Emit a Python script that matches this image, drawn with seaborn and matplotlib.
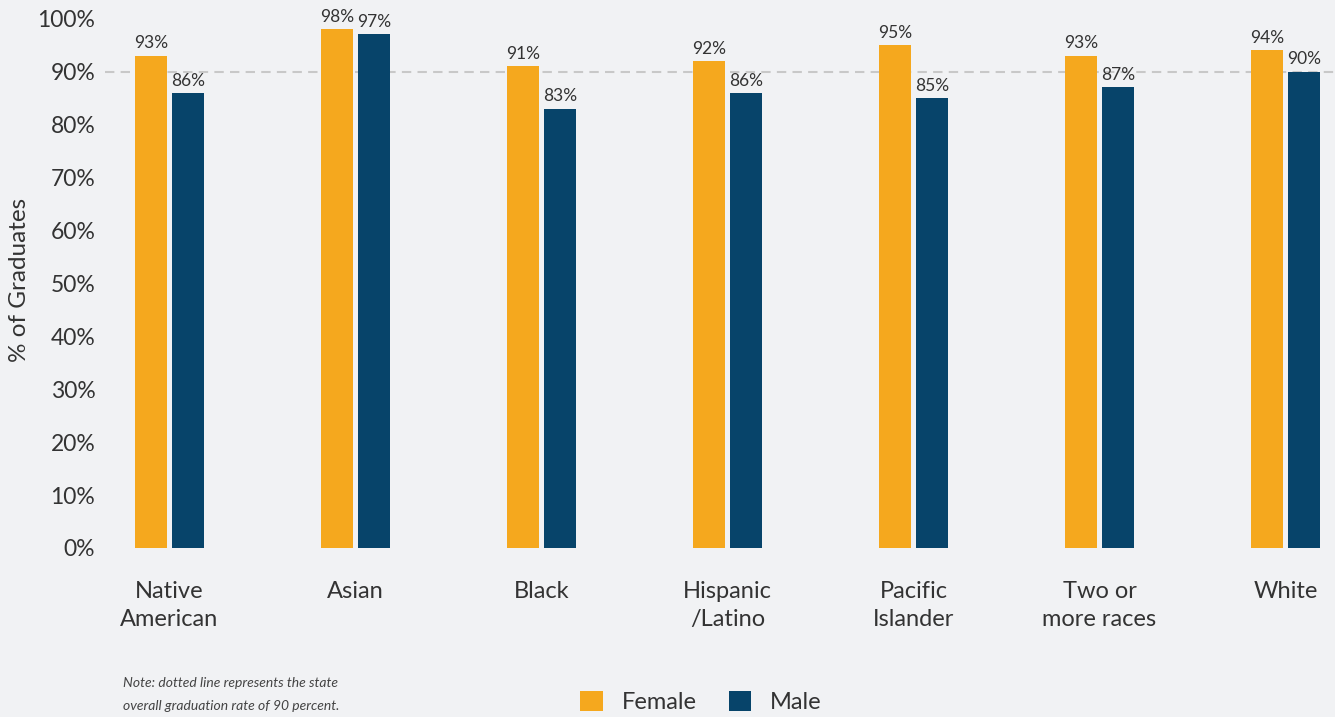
import matplotlib
matplotlib.use("Agg")
import matplotlib.pyplot as plt
from matplotlib.patches import Patch
import seaborn as sns
import pandas as pd

categories = ["Native\nAmerican", "Asian", "Black", "Hispanic\n/Latino",
              "Pacific\nIslander", "Two or\nmore races", "White"]
female = [93, 98, 91, 92, 95, 93, 94]
male = [86, 97, 83, 86, 85, 87, 90]
series = ["Female", "Male"]
colors = ["#F5A81E", "#07446A"]
yticks = list(range(0, 101, 10))
state_rate = 90

BG = "#F1F2F4"
TXT = "#333333"

sns.set_theme(style="white")
plt.rcParams["font.family"] = ["Lato", "DejaVu Sans"]

df = pd.DataFrame({
    "Race": categories * 2,
    "Gender": ["Female"] * len(categories) + ["Male"] * len(categories),
    "Value": female + male,
})

W, H = 1335, 717
fig = plt.figure(figsize=(W / 100, H / 100), dpi=100, facecolor=BG)
ax_left = 105 / W
ax_bottom = (H - 548) / H
ax = fig.add_axes([ax_left, ax_bottom, 1 - ax_left, 1 - ax_bottom])
ax.set_facecolor(BG)

sns.barplot(data=df, x="Race", y="Value", hue="Gender", hue_order=series,
            order=categories, palette=colors, width=0.398, gap=0.136,
            saturation=1, legend=False, linewidth=0, ax=ax)

ax.set_xlim(-0.347, 6.266)
ax.set_ylim(0, 548 / 5.294)
ax.axhline(state_rate, color="#C8C8C8", lw=1.5, ls=(0, (4.5, 3)), zorder=0)

for cont in ax.containers:
    for bar in cont:
        h = bar.get_height()
        ax.annotate(f"{h:.0f}%", (bar.get_x() + bar.get_width() / 2, h),
                    xytext=(0, 3), textcoords="offset points",
                    ha="center", va="bottom", fontsize=12.5, color=TXT)

ax.set_yticks(yticks)
ax.set_yticklabels([f"{t}%" for t in yticks], fontsize=16.5, color=TXT)
ax.tick_params(axis="y", length=0, pad=7)
ax.tick_params(axis="x", length=0, pad=24, labelsize=17, labelcolor=TXT)
for lab in ax.get_xticklabels():
    lab.set_linespacing(1.42)
ax.set_xlabel("")
ax.set_ylabel("")
for s in ax.spines.values():
    s.set_visible(False)

fig.text(20 / W, 1 - 280 / H, "% of Graduates", rotation=90, ha="center",
         va="center", fontsize=17.5, color=TXT)

fig.text(123 / W, 1 - 694.5 / H,
         "Note: dotted line represents the state\noverall graduation rate of 90 percent.",
         ha="left", va="center", fontsize=10, style="italic", color="#444444",
         linespacing=2.15)

handles = [Patch(facecolor=c, edgecolor="none", label=s) for c, s in zip(colors, series)]
fig.legend(handles=handles, loc="center", bbox_to_anchor=(701 / W, 1 - 702 / H),
           ncol=2, frameon=False, fontsize=17, handlelength=0.95, handleheight=0.95,
           handletextpad=0.8, columnspacing=1.35, labelcolor=TXT)

fig.savefig("out.png", dpi=100, facecolor=BG)
